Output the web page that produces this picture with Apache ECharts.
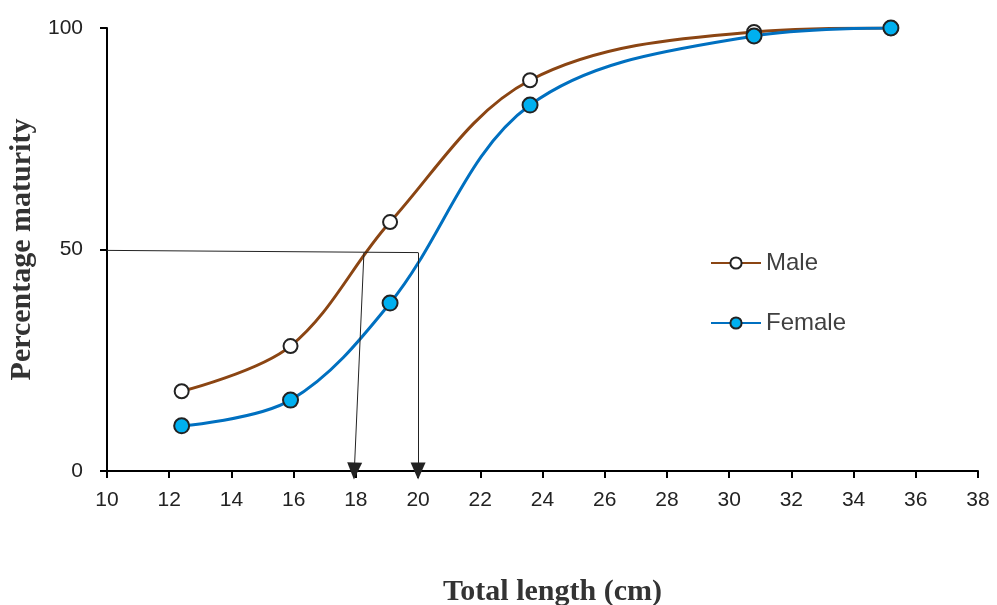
<!DOCTYPE html>
<html>
<head>
<meta charset="utf-8">
<script src="https://cdn.jsdelivr.net/npm/echarts@6/dist/echarts.min.js"></script>
<style>
  html, body { margin: 0; padding: 0; background: #fff; }
  #chart { width: 997px; height: 605px; }
</style>
</head>
<body>
<div id="chart"></div>
<script>
// Length classes (cm) and percentage of mature fish
const lengths = [12.4, 15.9, 19.1, 23.6, 30.8, 35.2];
const maleMaturity = [18, 28.2, 56.2, 88.2, 99.1, 100];
const femaleMaturity = [10.2, 16, 37.9, 82.6, 98.2, 100];

// Length at 50% maturity
const l50Level = [49.8, 49.3];
const l50Male = [18.26, 17.95];
const l50Female = [20.0, 20.0];

const toPairs = (xs, ys) => xs.map((x, i) => [x, ys[i]]);

const chart = echarts.init(document.getElementById('chart'));
const axisLine = { show: true, lineStyle: { color: '#000', width: 2 } };
const axisTick = { show: true, length: 7, lineStyle: { color: '#000', width: 2 } };
const titleFont = { fontFamily: 'Liberation Serif, Times New Roman, serif', fontWeight: 'bold', fontSize: 30, color: '#333' };

chart.setOption({
  animation: false,
  grid: { left: 107, right: 19, top: 28, bottom: 134, containLabel: false, outerBoundsMode: 'none' },
  xAxis: {
    type: 'value', min: 10, max: 38, interval: 2,
    axisLine, axisTick,
    splitLine: { show: false },
    axisLabel: { margin: 19, color: '#222', fontSize: 21, fontFamily: 'Liberation Sans, Arial' },
    name: 'Total length (cm)', nameLocation: 'middle', nameGap: 106,
    nameTextStyle: Object.assign({ padding: [0, 0, 0, 20] }, titleFont)
  },
  yAxis: {
    type: 'value', min: 0, max: 100, interval: 50,
    axisLine, axisTick,
    splitLine: { show: false },
    axisLabel: { margin: 24, color: '#222', fontSize: 21, fontFamily: 'Liberation Sans, Arial' },
    name: 'Percentage maturity', nameLocation: 'middle', nameGap: 70,
    nameTextStyle: titleFont
  },
  legend: {
    orient: 'vertical', left: 705, top: 246, itemGap: 36,
    itemWidth: 50, itemHeight: 14,
    textStyle: { fontFamily: 'Liberation Sans, Arial', fontSize: 24, lineHeight: 24, color: '#404040' },
    data: ['Male', 'Female']
  },
  series: [
    {
      name: 'L50',
      type: 'line',
      data: [],
      silent: true,
      markLine: {
        silent: true,
        animation: false,
        label: { show: false },
        lineStyle: { color: '#222', width: 1, type: 'solid' },
        symbol: ['none', 'triangle'],
        symbolSize: [15, 17],
        data: [
          [{ coord: [10, l50Level[0]], symbol: 'none' }, { coord: [l50Female[0], l50Level[1]], symbol: 'none' }],
          [{ coord: [l50Male[0], l50Level[1]] }, { coord: [l50Male[1], 0] }],
          [{ coord: [l50Female[0], l50Level[1]] }, { coord: [l50Female[1], 0] }]
        ]
      }
    },
    {
      name: 'Male',
      type: 'line',
      smooth: 0.35,
      data: toPairs(lengths, maleMaturity),
      symbol: 'circle', symbolSize: 14,
      lineStyle: { color: '#8B4513', width: 3 },
      itemStyle: { color: '#fff', borderColor: '#222', borderWidth: 2 },
      z: 3
    },
    {
      name: 'Female',
      type: 'line',
      smooth: 0.35,
      data: toPairs(lengths, femaleMaturity),
      symbol: 'circle', symbolSize: 15,
      lineStyle: { color: '#0070C0', width: 3 },
      itemStyle: { color: '#00B0F0', borderColor: '#222', borderWidth: 2 },
      z: 4
    }
  ]
});
</script>
</body>
</html>
